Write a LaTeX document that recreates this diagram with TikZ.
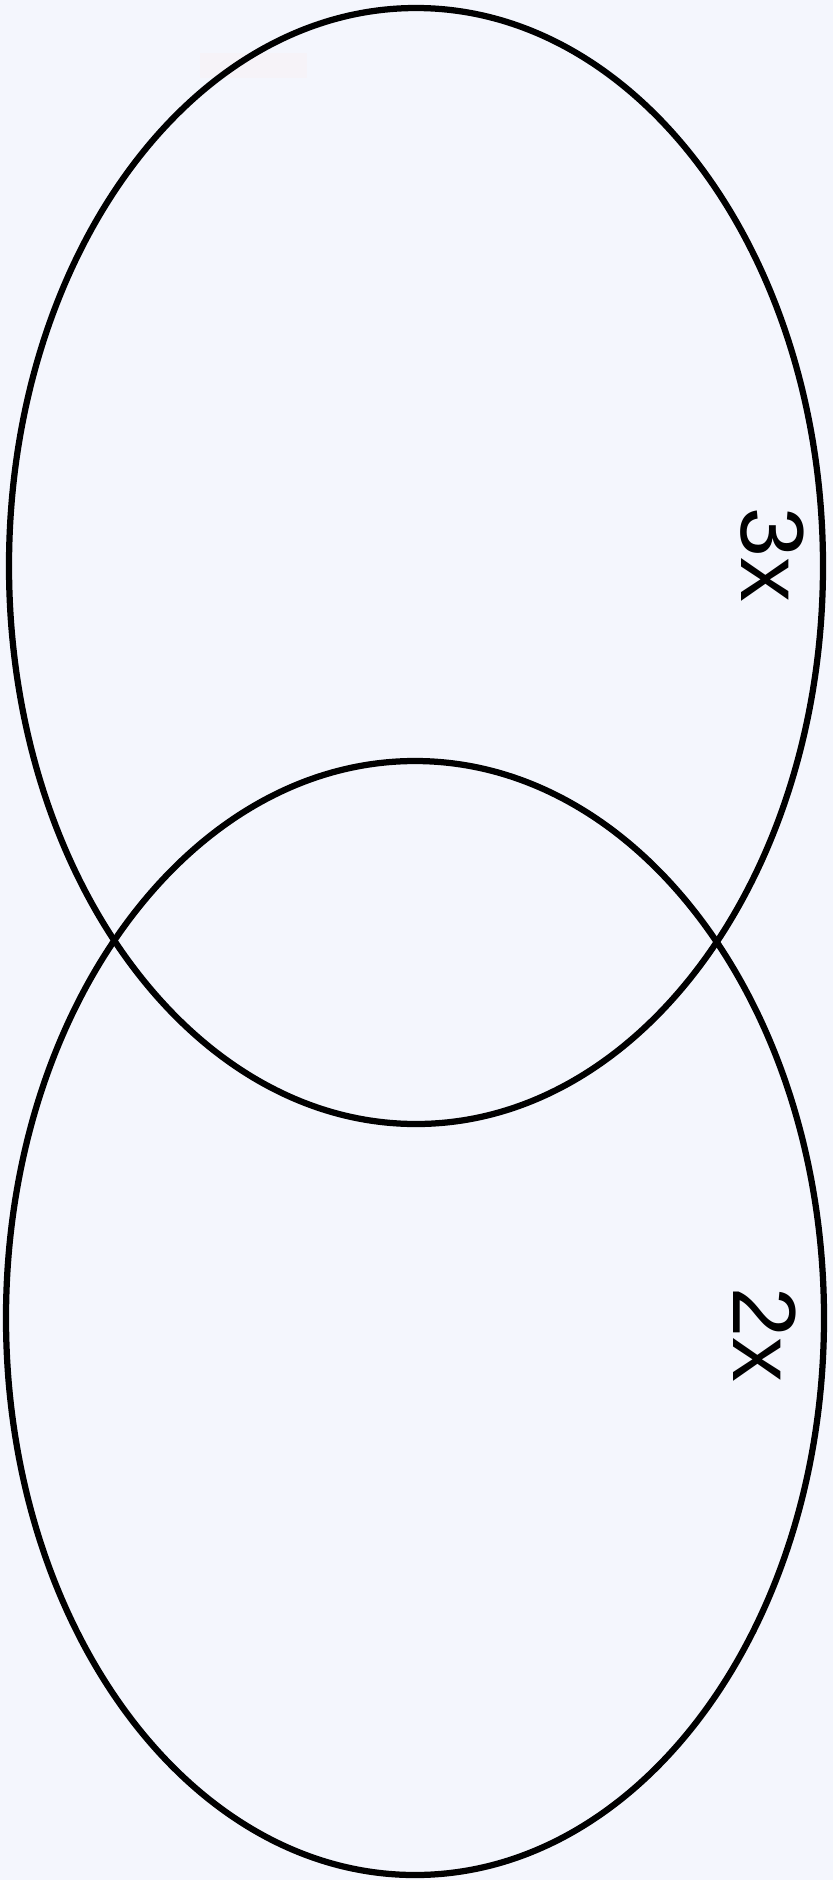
\documentclass[tikz,border=0pt]{standalone}
\usepackage{fontspec}
\setmainfont{Liberation Sans}
\usetikzlibrary{shapes.geometric}
\definecolor{bgpaper}{RGB}{244,246,253}
\definecolor{faintbox}{RGB}{246,243,248}
\begin{document}
\begin{tikzpicture}[set/.style={ellipse, draw, line width=0.125cm, inner sep=0pt}, term/.style={rotate=-90, inner sep=0pt, font=\fontsize{51}{60}\selectfont}]
        \fill[bgpaper] (0, 0) rectangle (16.66, -37.6);
        \useasboundingbox (0, 0) rectangle (16.66, -37.6);
        \fill[faintbox] (4.0, -1.06) rectangle (6.14, -1.56);

		\node[set, minimum width=16.28cm, minimum height=22.32cm] (upper) at (8.32, -11.32) {};
		\node[set, minimum width=16.36cm, minimum height=22.28cm] (lower) at (8.30, -26.36) {};

		\node[term] (three) at (15.45, -11.1) {3x};
		\node[term] (two) at (15.3, -26.7) {2x};
	\end{tikzpicture}
\end{document}
